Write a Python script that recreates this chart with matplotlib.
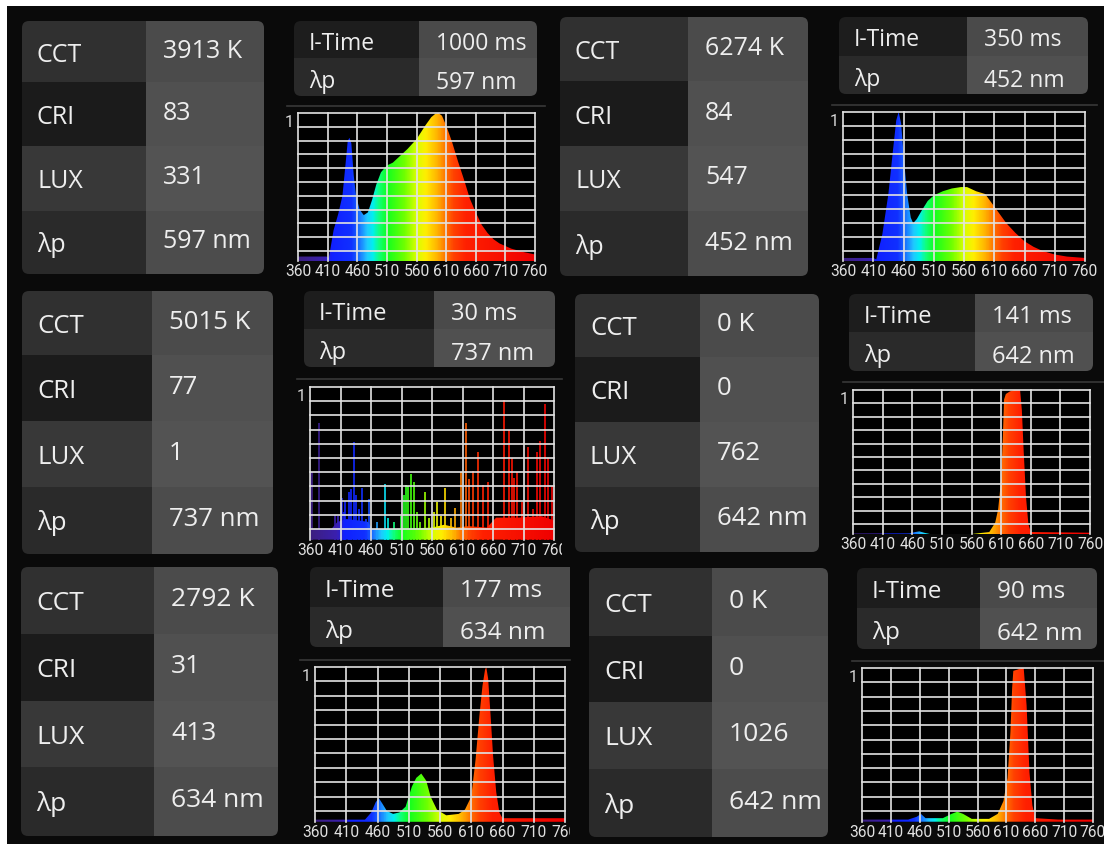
import numpy as np
import matplotlib
matplotlib.use('Agg')
import matplotlib.pyplot as plt
from matplotlib.colors import LinearSegmentedColormap
from matplotlib.patches import Rectangle, FancyBboxPatch, Polygon
from matplotlib.transforms import Bbox, offset_copy

plt.rcParams['font.family'] = ['Open Sans', 'DejaVu Sans']

W, H = 1104, 845

# meter readings, one per screenshot (row by row, left then right)
cct_k = [3913, 6274, 5015, 0, 2792, 0]
cri = [83, 84, 77, 0, 31, 0]
lux = [331, 547, 1, 762, 413, 1026]
peak_nm = [597, 452, 737, 642, 634, 642]
itime_ms = [1000, 350, 30, 141, 177, 90]

wl_ticks = [360, 410, 460, 510, 560, 610, 660, 710, 760]

# spectra (nm, relative intensity)
wl_3913 = [360, 408, 412, 416, 420, 428, 435, 440, 444, 447, 450, 454, 458, 464, 471, 478, 485,
           492, 500, 510, 520, 530, 545, 560, 575, 585, 592, 597, 603, 610, 620, 630, 640, 650,
           660, 670, 680, 690, 700, 720, 740, 760]
val_3913 = [-0.04, -0.04, -0.05, 0.05, 0.15, 0.27, 0.40, 0.62, 0.80, 0.82, 0.78, 0.55, 0.40,
            0.30, 0.26, 0.28, 0.37, 0.48, 0.57, 0.62, 0.64, 0.68, 0.74, 0.81, 0.91, 0.97, 0.995,
            1.0, 0.98, 0.91, 0.79, 0.65, 0.52, 0.38, 0.28, 0.19, 0.13, 0.085, 0.055, 0.017,
            -0.007, -0.025]

wl_6274 = [360, 410, 415, 425, 435, 442, 448, 452, 456, 461, 466, 472, 476, 482, 490, 500, 510,
           525, 540, 555, 565, 580, 595, 605, 615, 630, 645, 660, 675, 690, 710, 730, 760]
val_6274 = [-0.05, -0.05, -0.06, 0.12, 0.41, 0.70, 0.94, 1.0, 0.92, 0.65, 0.41, 0.24, 0.20,
            0.23, 0.29, 0.36, 0.40, 0.43, 0.45, 0.46, 0.46, 0.43, 0.41, 0.35, 0.29, 0.20, 0.13,
            0.07, 0.03, 0.0, -0.025, -0.04, -0.05]

# 5015 K lamp: discrete lines over a low floor
lines_5015_nm = [361, 363, 375, 401, 406, 412, 415, 418, 424, 428, 432, 436, 440, 446, 451,
                 456, 470, 483, 488, 497, 509, 514, 518, 521, 526, 530, 536, 541, 549, 555,
                 563, 568, 575, 581, 591, 597, 607, 615, 621, 628, 636, 643, 651, 678, 686,
                 691, 694, 700, 707, 718, 726, 732, 737, 745, 750, 756]
lines_5015_h = [0.40, 0.40, 0.75, 0.10, 0.09, 0.22, 0.12, 0.20, 0.26, 0.28, 0.61, 0.24, 0.14,
                0.29, 0.07, 0.21, 0.05, 0.32, 0.08, 0.05, 0.09, 0.24, 0.31, 0.30, 0.39, 0.33,
                0.12, 0.05, 0.26, 0.08, 0.12, 0.19, 0.09, 0.29, 0.08, 0.15, 0.40, 0.75, 0.35,
                0.41, 0.54, 0.31, 0.33, 0.91, 0.70, 0.50, 0.36, 0.40, 0.19, 0.58, 0.14, 0.54,
                0.62, 0.88, 0.50, 0.30]
floor_5015_nm = [360, 395, 405, 420, 440, 455, 462, 500, 560, 580, 600, 620, 650, 665, 700, 740,
                 760]
floor_5015 = [0.0, 0.0, 0.05, 0.07, 0.06, 0.05, 0.0, 0.0, 0.01, 0.03, 0.01, 0.02, 0.01,
              0.08, 0.08, 0.09, 0.06]

wl_0k_a = [360, 455, 465, 472, 480, 490, 560, 590, 600, 605, 610, 613, 615, 618, 625, 632, 642,
           645, 648, 652, 656, 660, 760]
val_0k_a = [-0.07, -0.07, -0.06, -0.055, -0.065, -0.075, -0.075, -0.06, 0.01, 0.11, 0.33, 0.66,
            0.93, 0.97, 0.99, 1.0, 1.0, 0.85, 0.55, 0.2, 0.0, -0.06, -0.065]

wl_2792 = [360, 440, 450, 457, 462, 468, 475, 485, 495, 505, 515, 522, 530, 538, 545, 555, 570,
           590, 600, 610, 617, 623, 628, 632, 634, 637, 641, 645, 650, 655, 660, 700, 760]
val_2792 = [-0.06, -0.06, -0.01, 0.06, 0.09, 0.05, 0.0, -0.02, -0.01, 0.03, 0.17, 0.23, 0.26,
            0.21, 0.10, 0.01, -0.03, -0.02, 0.01, 0.10, 0.36, 0.66, 0.87, 0.98, 1.0, 0.92, 0.66,
            0.38, 0.13, -0.01, -0.05, -0.05, -0.05]

wl_0k_b = [360, 440, 455, 462, 470, 500, 515, 525, 535, 550, 580, 595, 605, 612, 617, 620, 622,
           630, 636, 640, 645, 650, 655, 660, 700, 760]
val_0k_b = [-0.06, -0.06, -0.04, -0.02, -0.05, -0.05, -0.02, -0.005, -0.02, -0.055, -0.055,
            -0.02, 0.07, 0.23, 0.55, 0.86, 0.98, 0.99, 1.0, 1.0, 0.74, 0.27, 0.04, -0.05, -0.06,
            -0.06]

# screen geometry in pixels
panels = [
    dict(box=(7, 7, 553, 287), table=(22, 146, 264, [22, 83, 147, 212, 275]),
         itime=(294, 419, 537, [22, 59, 97]), sep=(287, 545, 107), plot=(298, 535, 114, 252), fs=18),
    dict(box=(553, 7, 1104, 287), table=(560, 688, 808, [18, 82, 147, 212, 277]),
         itime=(839, 967, 1088, [18, 57, 95]), sep=(832, 1097, 106), plot=(843, 1085, 113, 252), fs=18),
    dict(box=(7, 287, 562, 562), table=(22, 152, 273, [292, 356, 422, 488, 555]),
         itime=(304, 434, 555, [292, 330, 368]), sep=(297, 562, 380), plot=(310, 554, 388, 530), fs=18.5),
    dict(box=(562, 287, 1104, 562), table=(575, 700, 819, [295, 358, 423, 488, 553]),
         itime=(849, 975, 1093, [295, 333, 372]), sep=(843, 1104, 383), plot=(853, 1090, 391, 525), fs=18.5),
    dict(box=(7, 562, 570, 845), table=(21, 154, 278, [568, 635, 702, 768, 837]),
         itime=(310, 443, 585, [568, 608, 648]), sep=(300, 570, 661), plot=(315, 565, 668, 812), fs=19),
    dict(box=(570, 562, 1104, 845), table=(589, 712, 828, [569, 637, 703, 770, 838]),
         itime=(857, 980, 1097, [569, 609, 650]), sep=(852, 1104, 662), plot=(862, 1093, 669, 812), fs=19),
]

TXT = '#eeeeee'
GRID = '#e2e2e2'
YLOW = -0.075
TICK_FONT = ['Roboto', 'DejaVu Sans']

spec_cmap = LinearSegmentedColormap.from_list('spec', [
    (0.0, '#3c1f80'), (0.11, '#3a1fb0'), (0.14, '#1020ff'), (0.225, '#1030ff'),
    (0.26, '#1a78ff'), (0.29, '#20c8ff'), (0.315, '#00f0f0'), (0.34, '#10ff80'),
    (0.375, '#10ff20'), (0.45, '#70ff00'), (0.5, '#d8ff00'), (0.54, '#ffee00'),
    (0.59, '#ffb000'), (0.625, '#ff7000'), (0.66, '#ff4000'), (0.71, '#ff2000'),
    (1.0, '#f00000')])

fig = plt.figure(figsize=(W / 100, H / 100), dpi=100, facecolor='white')
bg = fig.add_axes([0, 0, 1, 1])
bg.set_xlim(0, W)
bg.set_ylim(H, 0)
bg.axis('off')


def cell_block(x0, xv, x1, ys, labels, values, lab_fc, val_fc, fs, lab_dy, val_dy):
    shape = FancyBboxPatch((x0, ys[0]), x1 - x0, ys[-1] - ys[0],
                           boxstyle='round,pad=0,rounding_size=7', fc='none', ec='none')
    bg.add_patch(shape)
    for i in range(len(labels)):
        for xa, xb, fc in ((x0, xv, lab_fc[i]), (xv, x1, val_fc[i])):
            r = Rectangle((xa, ys[i]), xb - xa, ys[i + 1] - ys[i], fc=fc, ec='none')
            bg.add_patch(r)
            r.set_clip_path(shape)
        mid = (ys[i] + ys[i + 1]) / 2
        bg.text(x0 + 15, mid + lab_dy[i], labels[i], fontsize=fs, color=TXT, va='baseline')
        bg.text(xv + 17, mid + val_dy[i], values[i], fontsize=fs, color=TXT, va='baseline')


def fill_spectrum(ax, wl, val):
    pts = np.column_stack([[wl[0]] + list(wl) + [wl[-1]], [YLOW] + list(val) + [YLOW]])
    poly = Polygon(pts, closed=True, fc='none', ec='none')
    ax.add_patch(poly)
    grad = np.linspace(360, 760, 400).reshape(1, -1)
    im = ax.imshow(grad, extent=(360, 760, YLOW, 1), cmap=spec_cmap, vmin=360, vmax=760,
                   aspect='auto', interpolation='bilinear', zorder=1)
    im.set_clip_path(poly)


spectra = [(wl_3913, val_3913), (wl_6274, val_6274), (floor_5015_nm, floor_5015),
           (wl_0k_a, val_0k_a), (wl_2792, val_2792), (wl_0k_b, val_0k_b)]

for k, p in enumerate(panels):
    bx0, by0, bx1, by1 = p['box']
    bg.add_patch(Rectangle((bx0, by0), bx1 - bx0, by1 - by0, fc='#0a0a0a', ec='none'))
    fs = p['fs']
    x0, xv, x1, ys = p['table']
    cell_block(x0, xv, x1, ys, ['CCT', 'CRI', 'LUX', 'λp'],
               [f'{cct_k[k]} K', str(cri[k]), str(lux[k]), f'{peak_nm[k]} nm'],
               ['#303030', '#1b1b1b', '#383838', '#2a2a2a'],
               ['#4b4b4b', '#505050', '#535353', '#4c4c4c'], fs, [9, 9, 9, 9], [5, 5, 5, 5])
    x0, xv, x1, ys = p['itime']
    cell_block(x0, xv, x1, ys, ['I-Time', 'λp'], [f'{itime_ms[k]} ms', f'{peak_nm[k]} nm'],
               ['#1d1d1d', '#2a2a2a'], ['#4a4a4a', '#505050'], fs - 1.5, [9, 10], [9, 11])
    sx0, sx1, sy = p['sep']
    bg.plot([sx0, sx1], [sy, sy], color='#383838', lw=1.2)

    # spectrum plot
    px0, px1, ytop, yzero = p['plot']
    ybot = yzero + (yzero - ytop) * (-YLOW)
    ax = fig.add_axes([px0 / W, 1 - ybot / H, (px1 - px0) / W, (ybot - ytop) / H])
    ax.set_facecolor('black')
    for s in ax.spines.values():
        s.set_visible(False)
    ax.set_xticks([])
    ax.set_yticks([])

    wl, val = spectra[k]
    fill_spectrum(ax, wl, val)
    if k == 2:
        cols = spec_cmap((np.array(lines_5015_nm) - 360) / 400)
        ax.vlines(lines_5015_nm, YLOW, lines_5015_h, colors=cols, lw=1.4, alpha=0.85, zorder=2)

    for g in np.arange(0, 1.001, 0.1):
        ax.axhline(g, color=GRID, lw=1.2, zorder=3, clip_on=False)
    for w in wl_ticks:
        ax.axvline(w, color=GRID, lw=1.2, zorder=3, clip_on=False)
    ax.set_xlim(360, 760)
    ax.set_ylim(YLOW, 1)

    clipbox = Bbox.from_extents(bx0, H - by1, bx1, H - by0)
    tr = offset_copy(ax.transData, fig=fig, x=0, y=-2, units='dots')
    for w in wl_ticks:
        t = ax.text(w, YLOW, str(w), transform=tr, ha='center', va='top', fontsize=11.2,
                    color='#e0e0e0', family=TICK_FONT, clip_on=True)
        t.set_clip_path(None)
        t.set_clip_box(clipbox)
    tr1 = offset_copy(ax.transData, fig=fig, x=-4, y=-1, units='dots')
    ax.text(360, 1, '1', transform=tr1, ha='right', va='top', fontsize=11.5, color='#d8d8d8',
            family=TICK_FONT)

fig.savefig('out.png', dpi=100, facecolor='white')
